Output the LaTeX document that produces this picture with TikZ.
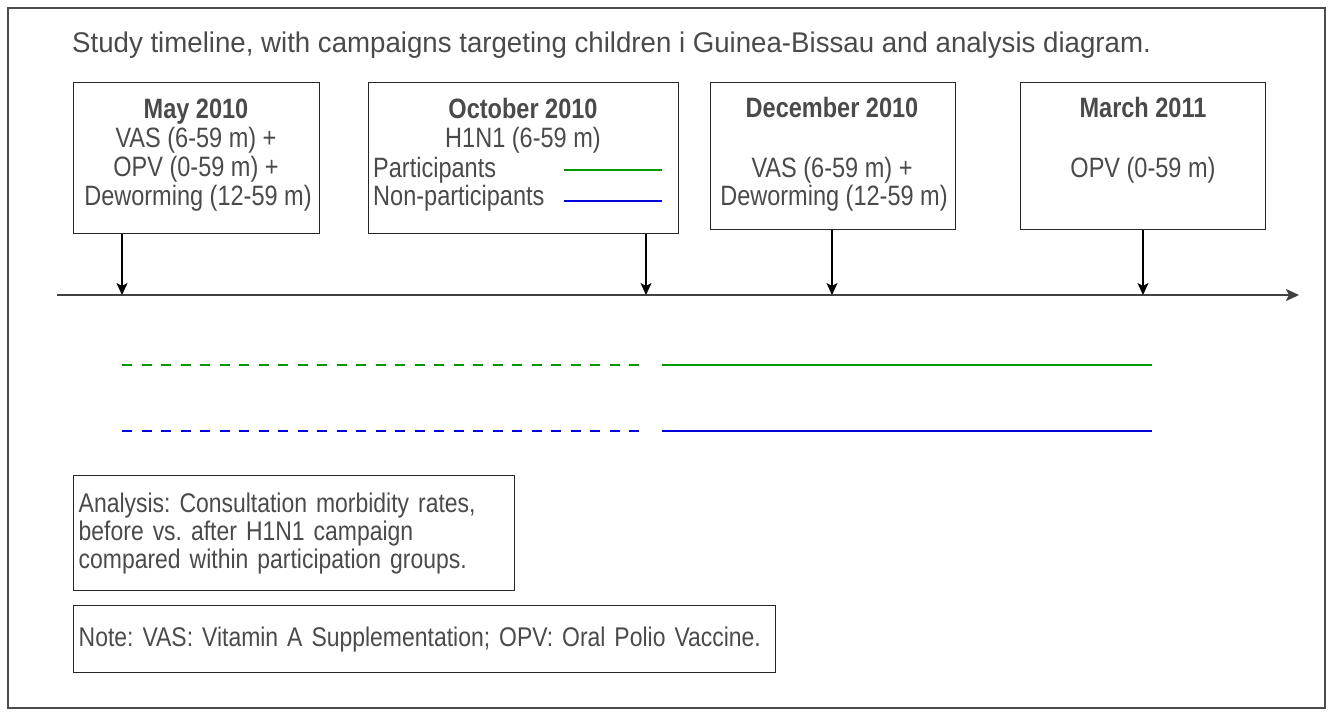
\documentclass[tikz,border=0pt]{standalone}
\usepackage{fontspec}
\setmainfont{Liberation Sans}
\newfontfamily\titlefont[FakeStretch=0.97]{Liberation Sans}
\newfontfamily\boxfont[FakeStretch=0.84]{Liberation Sans}
\newfontfamily\notefont[FakeStretch=0.85]{Liberation Sans}
\frenchspacing
\usetikzlibrary{positioning, arrows.meta}
\definecolor{txtgray}{HTML}{4A4A4A}
\definecolor{partgreen}{HTML}{009900}
\definecolor{nonblue}{HTML}{0000DD}
\tikzset{
	every node/.style={font=\boxfont\fontsize{28}{29}\selectfont, text=txtgray, inner sep=0pt, anchor=base},
	campaign/.style={draw=black!85, line width=1.4pt, anchor=north west},
	heading/.style={font=\boxfont\fontsize{28}{29}\selectfont\bfseries},
	tick/.style={line width=1.3pt, -{Stealth[length=12pt, width=11pt, inset=3pt]}},
	part/.style={draw=partgreen, line width=2.8pt},
	nonpart/.style={draw=nonblue, line width=2.8pt},
	before/.style={dash pattern=on 10pt off 9.5pt},
	infobox/.style={draw=black!85, line width=1.4pt, anchor=north west, align=left, inner xsep=5pt, font=\notefont\fontsize{27}{28}\selectfont},
}

\begin{document}
\begin{tikzpicture}[x=1pt, y=-1pt]
	\useasboundingbox (0,0) rectangle (1333,713);
	\draw[draw=black!70, line width=2.2pt] (8,8) rectangle (1325,708);

	\node[anchor=base west, font=\titlefont\fontsize{28.5}{34}\selectfont] (title) at (72,52) {Study timeline, with campaigns targeting children i Guinea-Bissau and analysis diagram.};

	% campaign boxes
	\node[campaign, minimum width=246pt, minimum height=151pt] (may) at (73,82) {};
	\node[campaign, minimum width=310pt, minimum height=151pt] (oct) at (368,82) {};
	\node[campaign, minimum width=245pt, minimum height=147pt] (dec) at (710,82) {};
	\node[campaign, minimum width=245pt, minimum height=147pt] (mar) at (1020,82) {};

	\node[heading] (mayhead) at (196,118) {May 2010};
	\node (mayvas) at (196,147) {VAS (6-59 m) +};
	\node (mayopv) at (196,176) {OPV (0-59 m) +};
	\node (maydew) at (198,205) {Deworming (12-59 m)};

	\node[heading] (octhead) at (523,118) {October 2010};
	\node (octflu) at (523,147) {H1N1 (6-59 m)};
	\node[anchor=base west] (octpart) at (373,177) {Participants};
	\node[anchor=base west] (octnon) at (373,205) {Non-participants};
	\coordinate (pa0) at (564,170);
	\coordinate (pa1) at (662,170);
	\coordinate (np0) at (564,201);
	\coordinate (np1) at (662,201);
	\draw[part] (pa0) -- (pa1);
	\draw[nonpart] (np0) -- (np1);

	\node[heading] (dechead) at (832,117) {December 2010};
	\node (decvas) at (832,177) {VAS (6-59 m) +};
	\node (decdew) at (834,205) {Deworming (12-59 m)};

	\node[heading] (marhead) at (1143,117) {March 2011};
	\node (maropv) at (1143,177) {OPV (0-59 m)};

	% timeline
	\coordinate (tl0) at (57,295);
	\coordinate (tl1) at (1299,295);
	\draw[draw=black!75, line width=2pt, -{Stealth[length=13pt, width=12pt, inset=3pt]}] (tl0) -- (tl1);
	\coordinate (tmay) at (122,295);
	\coordinate (toct) at (646,295);
	\coordinate (tdec) at (832,295);
	\coordinate (tmar) at (1143,295);
	\draw[tick] (may.south -| tmay) -- (tmay);
	\draw[tick] (oct.south -| toct) -- (toct);
	\draw[tick] (dec.south -| tdec) -- (tdec);
	\draw[tick] (mar.south -| tmar) -- (tmar);

	% follow-up lines
	\coordinate (g0) at (122,365);
	\coordinate (g1) at (645,365);
	\coordinate (g2) at (662,365);
	\coordinate (g3) at (1152,365);
	\coordinate (b0) at (122,431);
	\coordinate (b1) at (645,431);
	\coordinate (b2) at (662,431);
	\coordinate (b3) at (1152,431);
	\draw[part, before] (g0) -- (g1);
	\draw[part] (g2) -- (g3);
	\draw[nonpart, before] (b0) -- (b1);
	\draw[nonpart] (b2) -- (b3);

	\node[infobox, text width=431pt, minimum height=115pt] (analysis) at (73,475) {Analysis: Consultation morbidity rates,\\before vs. after H1N1 campaign\\compared within participation groups.};
	\node[infobox, text width=692pt, minimum height=67pt] (note) at (73,605) {Note: VAS: Vitamin A Supplementation; OPV: Oral Polio Vaccine.};
\end{tikzpicture}
\end{document}
